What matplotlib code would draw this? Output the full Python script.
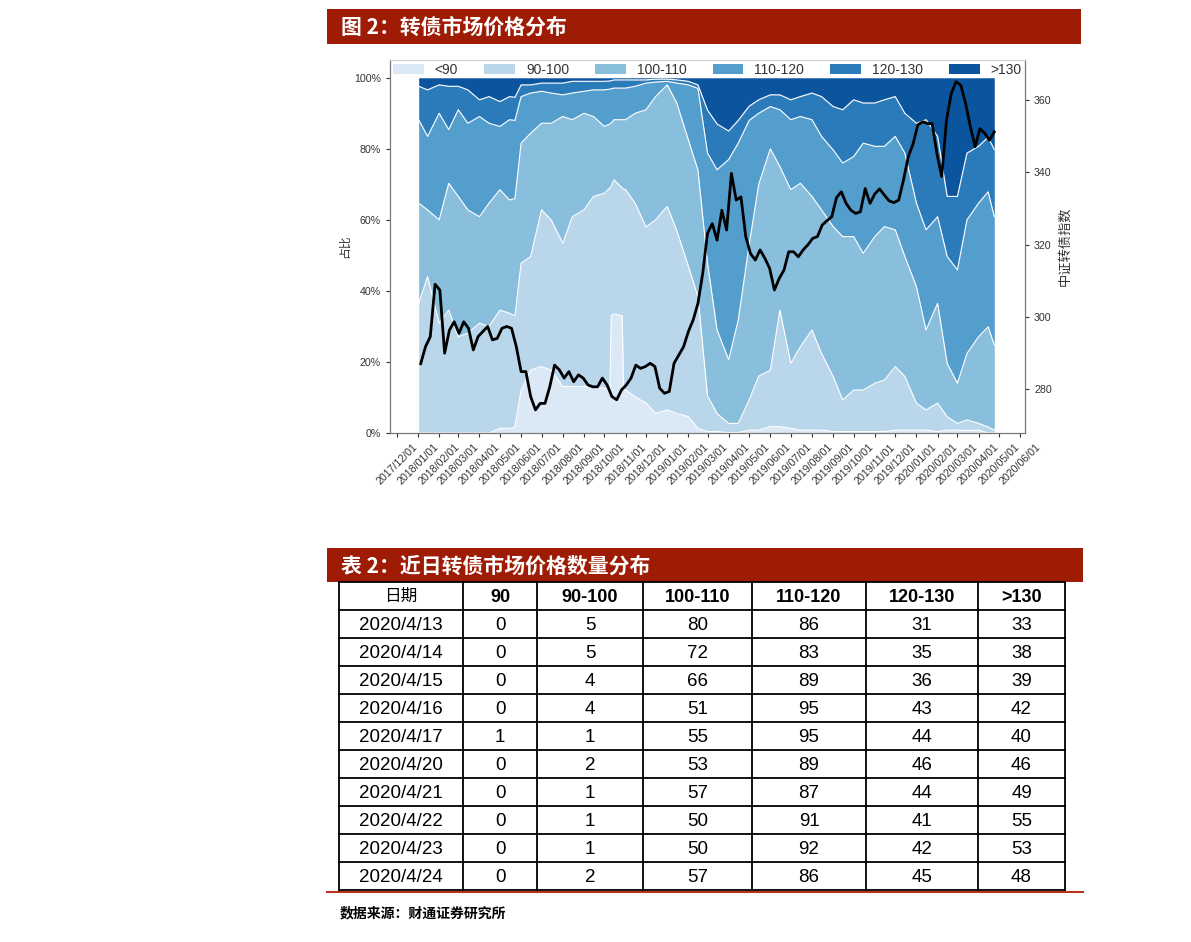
import matplotlib
matplotlib.use('Agg')
import matplotlib.pyplot as plt
import matplotlib.dates as mdates
from matplotlib.patches import Rectangle, Patch
from matplotlib.ticker import MultipleLocator, FuncFormatter
from matplotlib import font_manager as fm
import numpy as np
import pandas as pd

CJK = 'Noto Sans CJK SC'
names = {f.name for f in fm.fontManager.ttflist}
HAS_NARROW = 'Liberation Sans Narrow' in names
LAT = 'Liberation Sans Narrow' if HAS_NARROW else 'Liberation Sans'
plt.rcParams['font.family'] = [LAT, CJK, 'DejaVu Sans']

# ---------------- data ----------------
band_labels = ['<90', '90-100', '100-110', '110-120', '120-130', '>130']

share_dates = pd.to_datetime([
    '2018-01-02', '2018-01-15', '2018-02-01', '2018-02-15', '2018-03-01', '2018-03-15',
    '2018-04-01', '2018-04-15', '2018-05-01', '2018-05-15', '2018-05-23', '2018-06-01',
    '2018-06-15', '2018-07-01', '2018-07-15', '2018-08-01', '2018-08-15', '2018-09-01',
    '2018-09-15', '2018-10-01', '2018-10-09', '2018-10-11', '2018-10-15', '2018-10-27',
    '2018-10-29', '2018-11-01', '2018-11-15', '2018-12-01', '2018-12-15',
    '2019-01-01', '2019-01-15', '2019-02-01', '2019-02-15', '2019-03-01', '2019-03-15',
    '2019-04-01', '2019-04-15', '2019-05-01', '2019-05-15', '2019-06-01', '2019-06-15',
    '2019-07-01', '2019-07-15', '2019-08-01', '2019-08-15', '2019-09-01', '2019-09-15',
    '2019-10-01', '2019-10-15', '2019-11-01', '2019-11-15', '2019-12-01', '2019-12-15',
    '2020-01-01', '2020-01-15', '2020-02-01', '2020-02-15', '2020-03-01', '2020-03-15',
    '2020-04-01', '2020-04-15', '2020-04-24'])

# cumulative share (%) of bonds priced below each threshold
below_90 = [0, 0, 0, 0, 0, 0, 0, 0, 1.3, 1.3, 1.7, 12.1, 17.7, 18.7, 17.7, 13.1, 13.1,
            13.1, 13.1, 12.6, 12.6, 33.0, 33.5, 33.0, 12.3, 12.1, 10.2, 8.4, 5.5,
            6.5, 5.5, 4.6, 1.3, 0.4, 0.4, 0.1, 0.1, 0.8, 0.8, 1.8, 1.8,
            1.3, 0.8, 0.8, 0.8, 0.4, 0.4, 0.4, 0.4, 0.4, 0.4, 0.8, 0.8,
            0.8, 0.8, 0.4, 0.8, 0.8, 0.7, 0.8, 0.0, 0.0]
below_100 = [36.5, 44.0, 30.9, 34.6, 27.1, 28.1, 30.9, 30.0, 34.6, 33.7, 33.0, 47.8,
             49.7, 62.8, 60.0, 53.4, 60.9, 62.8, 66.6, 67.5, 69.0, 69.5, 71.3, 69.0,
             68.7, 68.5, 64.7, 58.0, 60.0,
             63.8, 57.0, 46.9, 38.4, 10.5, 5.5, 2.7, 2.7, 9.3, 16.0, 17.7, 34.6,
             19.6, 24.3, 29.0, 22.4, 15.9, 9.3, 12.1, 12.1, 14.0, 14.9, 18.7, 15.9,
             8.4, 6.5, 8.4, 4.6, 2.7, 3.7, 2.7, 1.7, 0.8]
below_110 = [64.7, 62.8, 60.0, 70.3, 66.6, 62.8, 60.9, 64.7, 68.5, 65.6, 66.0, 81.6,
             84.4, 87.2, 87.2, 89.1, 88.2, 90.0, 89.1, 86.3, 87.0, 87.3, 88.2, 88.2,
             88.2, 88.2, 90.0, 91.0, 94.7,
             98.0, 92.9, 82.5, 74.0, 47.8, 29.0, 20.6, 31.8, 53.0, 70.0, 80.0, 75.0,
             68.5, 70.3, 66.6, 62.8, 58.1, 55.3, 55.3, 50.6, 55.3, 58.1, 57.2, 49.7,
             41.2, 29.0, 36.5, 19.6, 14.0, 22.4, 27.1, 29.9, 24.8]
below_120 = [88.2, 83.5, 90.0, 85.4, 91.0, 87.2, 89.1, 87.2, 86.3, 88.2, 88.0, 94.7,
             95.7, 96.2, 95.7, 95.2, 95.7, 96.2, 96.6, 96.6, 96.8, 96.9, 97.1, 97.1,
             97.1, 97.1, 97.6, 98.5, 98.8,
             99.0, 98.5, 98.0, 97.0, 78.8, 74.1, 77.0, 81.6, 88.0, 90.0, 91.9, 91.0,
             88.2, 89.1, 88.2, 83.5, 79.7, 76.0, 77.8, 81.6, 80.7, 80.7, 83.5, 78.8,
             64.7, 57.2, 60.9, 49.7, 45.9, 60.0, 64.7, 67.9, 60.9]
below_130 = [97.6, 96.6, 98.0, 97.6, 97.6, 96.6, 93.8, 94.7, 93.3, 94.7, 94.5, 98.0,
             98.0, 98.5, 98.5, 98.5, 99.0, 99.0, 99.0, 99.0, 99.1, 99.2, 99.4, 99.4,
             99.4, 99.4, 99.4, 99.4, 99.6,
             99.6, 99.4, 99.0, 98.0, 90.9, 87.0, 85.0, 88.0, 92.0, 93.8, 95.2, 95.2,
             93.8, 94.7, 95.7, 94.7, 91.9, 91.0, 93.8, 92.9, 92.9, 93.8, 94.7, 90.0,
             87.2, 88.2, 83.5, 66.6, 66.6, 78.8, 80.7, 83.3, 79.8]

idx_dates = pd.date_range('2018-01-05', '2020-04-24', freq='W-FRI')
idx_values = [287.0, 291.7, 294.5, 309.0, 307.4, 289.9, 296.3, 298.6, 295.4, 298.6,
              296.8, 290.8, 294.5, 295.9, 297.3, 293.6, 294.0, 296.8, 297.3, 296.8,
              291.7, 284.8, 284.8, 277.9, 274.2, 276.0, 276.0, 280.6, 286.6, 285.3,
              283.0, 284.8, 282.0, 283.9, 283.0, 281.1, 280.6, 280.6, 283.0, 281.1,
              277.9, 277.0, 279.7, 281.1, 283.0, 286.6, 285.7, 286.2, 287.1, 286.2,
              280.2, 278.8, 279.3, 287.1, 289.4, 291.7, 295.9, 299.1, 303.7, 312.0,
              323.1, 325.8, 321.2, 329.5, 324.0, 339.7, 332.3, 333.2, 322.2, 317.5,
              315.7, 318.5, 316.2, 313.4, 307.4, 310.6, 312.9, 318.0, 318.0, 316.6,
              318.5, 319.9, 321.7, 322.2, 325.4, 326.6, 327.7, 333.0, 334.6, 331.4,
              329.5, 328.6, 329.1, 335.5, 331.4, 334.0, 335.4, 333.7, 332.1, 331.6,
              332.3, 337.8, 344.3, 347.8, 353.1, 354.0, 353.5, 353.5, 345.2, 338.8,
              354.4, 361.8, 365.1, 364.1, 359.1, 352.6, 347.1, 352.1, 350.8, 348.9,
              351.2]

table_header = ['日期', '90', '90-100', '100-110', '110-120', '120-130', '>130']
table_dates = ['2020/4/13', '2020/4/14', '2020/4/15', '2020/4/16', '2020/4/17',
               '2020/4/20', '2020/4/21', '2020/4/22', '2020/4/23', '2020/4/24']
cnt_lt90 = [0, 0, 0, 0, 1, 0, 0, 0, 0, 0]
cnt_90_100 = [5, 5, 4, 4, 1, 2, 1, 1, 1, 2]
cnt_100_110 = [80, 72, 66, 51, 55, 53, 57, 50, 50, 57]
cnt_110_120 = [86, 83, 89, 95, 95, 89, 87, 91, 92, 86]
cnt_120_130 = [31, 35, 36, 43, 44, 46, 44, 41, 42, 45]
cnt_gt130 = [33, 38, 39, 42, 40, 46, 49, 55, 53, 48]

# ---------------- figure ----------------
W, H = 1191, 942
fig = plt.figure(figsize=(W / 100, H / 100), dpi=100)
fig.patch.set_facecolor('white')

lay = fig.add_axes([0, 0, 1, 1])
lay.set_xlim(0, W)
lay.set_ylim(H, 0)
lay.axis('off')

RED = '#9e1c05'
lay.add_patch(Rectangle((327, 9), 754, 35, color=RED, lw=0))
lay.text(341, 27, '图 2：转债市场价格分布', color='white', fontsize=15,
         fontweight='bold', family=[CJK], va='center', ha='left')
lay.add_patch(Rectangle((327, 548), 756, 34, color=RED, lw=0))
lay.text(341, 566, '表 2：近日转债市场价格数量分布', color='white', fontsize=15,
         fontweight='bold', family=[CJK], va='center', ha='left')

# ---------------- chart ----------------
colors = ['#dbe9f6', '#bad6eb', '#89bedc', '#539ecd', '#2b7bba', '#0b559f']
ax = fig.add_axes([390 / W, 1 - 433 / H, 635 / W, 373 / H])
zeros = [0] * len(share_dates)
hundred = [100] * len(share_dates)
bounds = [zeros, below_90, below_100, below_110, below_120, below_130, hundred]
for i in range(6):
    ax.fill_between(share_dates, bounds[i], bounds[i + 1], color=colors[i], lw=0)
for b in bounds[1:6]:
    ax.plot(share_dates, b, color='white', lw=0.8)

ax.set_ylim(0, 105)
ax.set_xlim(pd.Timestamp('2017-11-21'), pd.Timestamp('2020-06-08'))
ax.yaxis.set_major_locator(MultipleLocator(20))
ax.yaxis.set_major_formatter(FuncFormatter(lambda v, p: f'{v:.0f}%'))
ax.xaxis.set_major_locator(mdates.MonthLocator())
ax.xaxis.set_major_formatter(mdates.DateFormatter('%Y/%m/%d'))
fs_tick = 8.5 if HAS_NARROW else 7.7
ax.tick_params(axis='both', labelsize=fs_tick, colors='#333333', length=3, width=0.8)
for lab in ax.get_xticklabels():
    lab.set_rotation(45)
    lab.set_ha('center')
ax.set_ylabel('占比', family=[CJK], fontsize=8.5, color='#333333', labelpad=2)

for s in ['left', 'bottom', 'right']:
    ax.spines[s].set_color('#777777')
ax.spines['top'].set_color('#d0d0d0')

handles = [Patch(facecolor=c, edgecolor='none') for c in colors]
leg = ax.legend(handles, band_labels, loc='lower left', bbox_to_anchor=(0.005, 0.955, 0.99, 0.04),
                mode='expand', ncol=6, frameon=False, handlelength=2.2, handleheight=0.75,
                handletextpad=0.8, fontsize=11 if HAS_NARROW else 10, borderaxespad=0,
                borderpad=0)
for t in leg.get_texts():
    t.set_color('#333333')

ax2 = ax.twinx()
ax2.plot(idx_dates, idx_values, color='black', lw=2)
ax2.set_ylim(267.8, 371.1)
ax2.set_yticks([280, 300, 320, 340, 360])
ax2.tick_params(axis='y', labelsize=fs_tick, colors='#333333', length=3, width=0.8)
ax2.set_ylabel('中证转债指数', family=[CJK], fontsize=9.5, color='#333333', labelpad=5)
for s in ['left', 'bottom', 'right']:
    ax2.spines[s].set_color('#777777')
ax2.spines['top'].set_color('#d0d0d0')

# ---------------- table ----------------
col_edges = [339, 463, 537, 643, 752, 866, 978, 1065]
top, rh = 582, 28
nrows = len(table_dates) + 1
for k in range(nrows + 1):
    lay.plot([col_edges[0], col_edges[-1]], [top + k * rh, top + k * rh], color='black', lw=1.3)
for x in col_edges:
    lay.plot([x, x], [top, top + nrows * rh], color='black', lw=1.3)

fs_tab = 15.5 if HAS_NARROW else 13.5
centers = [(col_edges[j] + col_edges[j + 1]) / 2 for j in range(7)]
for j, h in enumerate(table_header):
    if j == 0:
        lay.text(centers[j], top + rh / 2, h, family=[CJK], fontsize=12, ha='center', va='center')
    else:
        lay.text(centers[j], top + rh / 2 + 1, h, fontsize=fs_tab - 0.5, fontweight='bold',
                 ha='center', va='center')
cols = [table_dates, cnt_lt90, cnt_90_100, cnt_100_110, cnt_110_120, cnt_120_130, cnt_gt130]
for r in range(len(table_dates)):
    yc = top + (r + 1.5) * rh + 1
    for j in range(7):
        lay.text(centers[j], yc, str(cols[j][r]), fontsize=fs_tab, ha='center', va='center')

lay.plot([327, 1083], [892, 892], color='#b8321f', lw=1.5)
lay.text(340, 913, '数据来源：财通证券研究所', family=[CJK], fontsize=10,
         fontweight='bold', ha='left', va='center')

fig.savefig('out.png', dpi=100)
